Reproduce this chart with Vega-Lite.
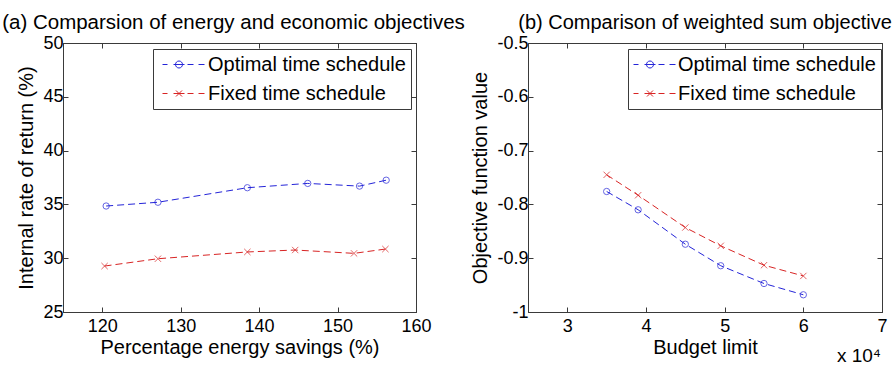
{
  "$schema": "https://vega.github.io/schema/vega-lite/v6.json",
  "padding": {"left": 1, "top": 12, "right": 0, "bottom": 5},
  "background": "white",
  "spacing": 112,
  "bounds": "flush",
  "config": {
    "font": "Liberation Sans",
    "view": {"stroke": "#3a3a3a", "strokeWidth": 1},
    "axis": {
      "grid": false, "domainColor": "#3a3a3a", "tickColor": "#3a3a3a", "tickSize": -5,
      "labelFont": "Liberation Sans", "labelFontSize": 18, "labelColor": "#000",
      "titleFont": "Liberation Sans", "titleFontSize": 20, "titleFontWeight": "normal", "titleColor": "#000",
      "labelPadding": 5, "titlePadding": 6, "labelFlush": false, "labelOverlap": false
    },
    "axisBottom": {"labelPadding": 10, "titlePadding": 2},
    "title": {"font": "Liberation Sans", "fontWeight": "normal", "color": "#000", "anchor": "middle", "offset": 1, "fontSize": 20.5},
    "legend": {
      "orient": "none", "strokeColor": "#3a3a3a", "fillColor": "white", "padding": 5,
      "labelFont": "Liberation Sans", "labelFontSize": 20, "labelColor": "#000", "labelLimit": 400,
      "symbolSize": 400, "labelOffset": 25, "rowPadding": 8, "symbolOffset": 4, "title": null
    }
  },
  "datasets": {
    "a": [
      {"savings": 120.5, "irr": 34.85, "schedule": "Optimal time schedule"},
      {"savings": 127.1, "irr": 35.2, "schedule": "Optimal time schedule"},
      {"savings": 138.5, "irr": 36.55, "schedule": "Optimal time schedule"},
      {"savings": 146.2, "irr": 36.95, "schedule": "Optimal time schedule"},
      {"savings": 152.8, "irr": 36.7, "schedule": "Optimal time schedule"},
      {"savings": 156.2, "irr": 37.25, "schedule": "Optimal time schedule"},
      {"savings": 120.3, "irr": 29.27, "schedule": "Fixed time schedule"},
      {"savings": 127.1, "irr": 29.95, "schedule": "Fixed time schedule"},
      {"savings": 138.5, "irr": 30.58, "schedule": "Fixed time schedule"},
      {"savings": 144.6, "irr": 30.76, "schedule": "Fixed time schedule"},
      {"savings": 152.1, "irr": 30.45, "schedule": "Fixed time schedule"},
      {"savings": 156.1, "irr": 30.85, "schedule": "Fixed time schedule"}
    ],
    "b": [
      {"budget": 35000, "obj": -0.776, "schedule": "Optimal time schedule"},
      {"budget": 39000, "obj": -0.81, "schedule": "Optimal time schedule"},
      {"budget": 45000, "obj": -0.874, "schedule": "Optimal time schedule"},
      {"budget": 49500, "obj": -0.914, "schedule": "Optimal time schedule"},
      {"budget": 55000, "obj": -0.947, "schedule": "Optimal time schedule"},
      {"budget": 60000, "obj": -0.968, "schedule": "Optimal time schedule"},
      {"budget": 35000, "obj": -0.745, "schedule": "Fixed time schedule"},
      {"budget": 39000, "obj": -0.783, "schedule": "Fixed time schedule"},
      {"budget": 45000, "obj": -0.843, "schedule": "Fixed time schedule"},
      {"budget": 49500, "obj": -0.877, "schedule": "Fixed time schedule"},
      {"budget": 55000, "obj": -0.913, "schedule": "Fixed time schedule"},
      {"budget": 60000, "obj": -0.933, "schedule": "Fixed time schedule"}
    ],
    "note": [{"label": "x 10⁴"}]
  },
  "hconcat": [
    {
      "width": 353, "height": 269,
      "title": {"text": "(a) Comparsion of energy and economic objectives", "dx": -6},
      "data": {"name": "a"},
      "layer": [
        {
          "mark": {"type": "line", "strokeWidth": 1, "strokeDash": [7, 4]},
          "encoding": {
            "x": {"field": "savings", "type": "quantitative", "scale": {"domain": [115, 160], "nice": false, "zero": false},
                  "axis": {"orient": "bottom", "values": [120, 130, 140, 150, 160], "title": "Percentage energy savings (%)"}},
            "y": {"field": "irr", "type": "quantitative", "scale": {"domain": [25, 50], "nice": false, "zero": false},
                  "axis": {"orient": "left", "values": [25, 30, 35, 40, 45, 50], "title": "Internal rate of return (%)"}},
            "color": {"field": "schedule", "type": "nominal",
                      "scale": {"domain": ["Optimal time schedule", "Fixed time schedule"], "range": ["#2424d8", "#d82424"]},
                      "legend": {"legendX": 90, "legendY": 6,
                        "encode": {"symbols": {"update": {
                          "shape": {"signal": "datum.value === 'Optimal time schedule' ? 'M-1,0L-0.5,0M0.1,0L1.2,0M1,0A0.35,0.35 0 1,1 0.3,0A0.35,0.35 0 1,1 1,0M1.5,0L2.1,0M2.6,0L3.2,0' : 'M-1,0L-0.5,0M0.1,0L1.2,0M0.35,-0.3L0.95,0.3M0.35,0.3L0.95,-0.3M1.5,0L2.1,0M2.6,0L3.2,0'"},
                          "fill": {"value": "transparent"}, "strokeWidth": {"value": 1}, "strokeDash": {"value": []}}}}}}
          }
        },
        {
          "mark": {"type": "point", "filled": false, "strokeWidth": 1, "size": 40},
          "encoding": {
            "x": {"field": "savings", "type": "quantitative", "axis": {"orient": "top", "values": [120, 130, 140, 150, 160], "labels": false, "title": null}},
            "y": {"field": "irr", "type": "quantitative", "axis": {"orient": "right", "values": [25, 30, 35, 40, 45, 50], "labels": false, "title": null}},
            "color": {"field": "schedule", "type": "nominal"},
            "shape": {"condition": {"test": "datum.schedule === 'Fixed time schedule'", "value": "M-1,-1L1,1M-1,1L1,-1"}, "value": "circle"}
          }
        }
      ],
      "resolve": {"axis": {"x": "independent", "y": "independent"}}
    },
    {
      "width": 354, "height": 269,
      "title": {"text": "(b) Comparison of weighted sum objective", "fontSize": 20},
      "layer": [
        {
          "data": {"name": "b"},
          "mark": {"type": "line", "strokeWidth": 1, "strokeDash": [7, 4]},
          "encoding": {
            "x": {"field": "budget", "type": "quantitative", "scale": {"domain": [25000, 70000], "nice": false, "zero": false},
                  "axis": {"orient": "bottom", "values": [30000, 40000, 50000, 60000, 70000], "labelExpr": "'' + (datum.value / 10000)", "title": "Budget limit"}},
            "y": {"field": "obj", "type": "quantitative", "scale": {"domain": [-1, -0.5], "nice": false, "zero": false},
                  "axis": {"orient": "left", "values": [-1, -0.9, -0.8, -0.7, -0.6, -0.5], "labelExpr": "'' + datum.value", "title": "Objective function value"}},
            "color": {"field": "schedule", "type": "nominal",
                      "scale": {"domain": ["Optimal time schedule", "Fixed time schedule"], "range": ["#2424d8", "#d82424"]},
                      "legend": {"legendX": 100, "legendY": 6, "symbolOffset": 0, "labelOffset": 24,
                        "encode": {"symbols": {"update": {
                          "shape": {"signal": "datum.value === 'Optimal time schedule' ? 'M-1,0L-0.5,0M0.1,0L1.2,0M1,0A0.35,0.35 0 1,1 0.3,0A0.35,0.35 0 1,1 1,0M1.5,0L2.1,0M2.6,0L3.2,0' : 'M-1,0L-0.5,0M0.1,0L1.2,0M0.35,-0.3L0.95,0.3M0.35,0.3L0.95,-0.3M1.5,0L2.1,0M2.6,0L3.2,0'"},
                          "fill": {"value": "transparent"}, "strokeWidth": {"value": 1}, "strokeDash": {"value": []}}}}}}
          }
        },
        {
          "data": {"name": "b"},
          "mark": {"type": "point", "filled": false, "strokeWidth": 1, "size": 40},
          "encoding": {
            "x": {"field": "budget", "type": "quantitative", "axis": {"orient": "top", "values": [30000, 40000, 50000, 60000, 70000], "labels": false, "title": null}},
            "y": {"field": "obj", "type": "quantitative", "axis": {"orient": "right", "values": [-1, -0.9, -0.8, -0.7, -0.6, -0.5], "labels": false, "title": null}},
            "color": {"field": "schedule", "type": "nominal"},
            "shape": {"condition": {"test": "datum.schedule === 'Fixed time schedule'", "value": "M-1,-1L1,1M-1,1L1,-1"}, "value": "circle"}
          }
        },
        {
          "data": {"name": "note"},
          "mark": {"type": "text", "align": "right", "baseline": "alphabetic", "fontSize": 19, "dy": 50, "dx": -1, "color": "#000"},
          "encoding": {
            "x": {"datum": 70000, "type": "quantitative", "axis": null},
            "y": {"datum": -1, "type": "quantitative", "axis": null},
            "text": {"field": "label"}
          }
        }
      ],
      "resolve": {"axis": {"x": "independent", "y": "independent"}}
    }
  ],
  "resolve": {"scale": {"color": "independent"}, "legend": {"color": "independent"}}
}
